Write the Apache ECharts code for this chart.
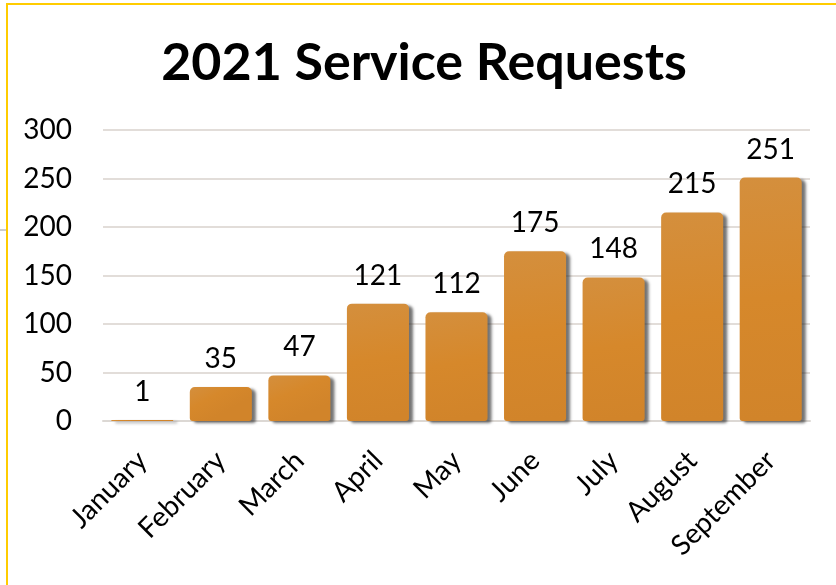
<!DOCTYPE html>
<html>
<head>
<meta charset="utf-8">
<script src="https://cdn.jsdelivr.net/npm/echarts@6/dist/echarts.min.js"></script>
<style>
  html, body { margin: 0; padding: 0; background: #ffffff; }
  #chart { width: 836px; height: 585px; }
</style>
</head>
<body>
<div id="chart"></div>
<script>
// Monthly service request counts for 2021
const months = ['January', 'February', 'March', 'April', 'May', 'June', 'July', 'August', 'September'];
const requests = [1, 35, 47, 121, 112, 175, 148, 215, 251];
const yTicks = [0, 50, 100, 150, 200, 250, 300];

const FONT = 'Lato, "Noto Sans", sans-serif';

const chart = echarts.init(document.getElementById('chart'), null, { renderer: 'canvas' });

const barFill = new echarts.graphic.LinearGradient(0, 0, 0.3, 1, [
  { offset: 0, color: '#d48f3d' },
  { offset: 0.5, color: '#d6882b' },
  { offset: 1, color: '#d1842a' }
]);

chart.setOption({
  animation: false,
  backgroundColor: '#ffffff',
  title: {
    text: '2021 Service Requests',
    left: 419,
    top: 32,
    textAlign: 'center',
    textStyle: { fontFamily: FONT, fontWeight: 'bold', fontSize: 52, color: '#000000' }
  },
  grid: { left: 103, right: 26, top: 130, bottom: 164, containLabel: false },
  xAxis: {
    type: 'category',
    data: months,
    axisLine: { show: true, lineStyle: { color: '#dcd8d4', width: 2 } },
    axisTick: { show: false },
    axisLabel: {
      rotate: 45,
      margin: 35,
      fontFamily: FONT,
      fontSize: 28,
      color: '#000000'
    }
  },
  yAxis: {
    type: 'value',
    min: yTicks[0],
    max: yTicks[yTicks.length - 1],
    interval: 50,
    axisLine: { show: false },
    axisTick: { show: false },
    splitLine: { lineStyle: { color: '#e2ddd9', width: 2 } },
    axisLabel: { fontFamily: FONT, fontSize: 28, color: '#000000', margin: 31 }
  },
  series: [{
    type: 'bar',
    data: requests,
    barCategoryGap: '21%',
    itemStyle: {
      color: barFill,
      borderRadius: [5, 5, 3, 3],
      shadowColor: 'rgba(40,40,40,0.65)',
      shadowBlur: 3,
      shadowOffsetX: 4,
      shadowOffsetY: 2
    },
    label: {
      show: true,
      position: 'top',
      distance: 14,
      fontFamily: FONT,
      fontSize: 28,
      color: '#000000'
    }
  }],
  graphic: [
    // frame edges along the top and left
    { type: 'line', shape: { x1: 6, y1: 4, x2: 836, y2: 4 }, style: { stroke: '#ffcc00', lineWidth: 2 } },
    { type: 'line', shape: { x1: 7, y1: 4, x2: 7, y2: 585 }, style: { stroke: '#ffcc00', lineWidth: 2 } },
    { type: 'line', shape: { x1: 0, y1: 230, x2: 6, y2: 230 }, style: { stroke: '#9a9a9a', lineWidth: 1 } }
  ]
});
</script>
</body>
</html>
